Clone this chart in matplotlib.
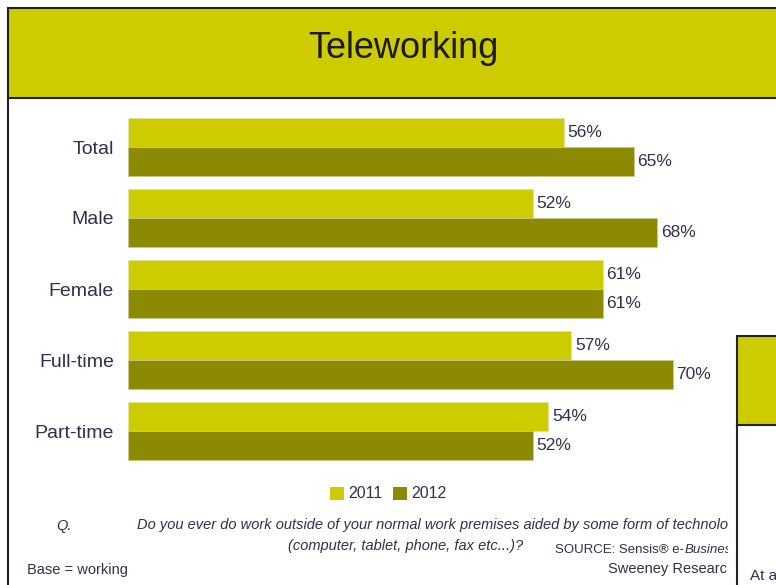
import matplotlib
matplotlib.use("Agg")
import matplotlib.pyplot as plt
from matplotlib.patches import Rectangle
from matplotlib.transforms import Bbox

plt.rcParams['font.family'] = ['Liberation Sans', 'DejaVu Sans']

categories = ["Total", "Male", "Female", "Full-time", "Part-time"]
values_2011 = [56, 52, 61, 57, 54]
values_2012 = [65, 68, 61, 70, 52]
series_names = ["2011", "2012"]
title = "Teleworking"

C2011 = "#CCCC00"
C2012 = "#8C8A00"
TXT = "#30304A"

W, H = 776, 585
fig = plt.figure(figsize=(W / 100, H / 100), dpi=100)

# background / decoration axes in pixel coordinates
bg = fig.add_axes([0, 0, 1, 1])
bg.set_xlim(0, W)
bg.set_ylim(H, 0)
bg.axis("off")

bg.add_patch(Rectangle((8, 8), W + 10, 90, facecolor=C2011, edgecolor="#222222", lw=1.5))
bg.plot([8, 8], [98, H + 5], color="#222222", lw=1.5)
bg.text(403, 49, title, ha="center", va="center", fontsize=26, color="#1a1a1a")

# second (cut off) box on the right
bg.add_patch(Rectangle((737, 336), 60, 89, facecolor=C2011, edgecolor="#222222", lw=1.5))
bg.plot([737, 737], [425, H + 5], color="#222222", lw=1.5)
bg.text(750, 576, "At a", ha="left", va="center", fontsize=11, color=TXT)

# bar axes
px0, px1 = 128, 728
ytop, ybot = 110, 470
ax = fig.add_axes([px0 / W, 1 - ybot / H, (px1 - px0) / W, (ybot - ytop) / H])
ax.set_facecolor("none")
scale = 7.78  # px per percent
ax.set_xlim(0, (px1 - px0) / scale)
yc0, step = 147, 71
ax.set_ylim((ybot - yc0) / step, (ytop - yc0) / step)

bh = 0.415
pos = list(range(len(categories)))
ax.barh([p - bh / 2 for p in pos], values_2011, height=bh, color=C2011, edgecolor="#E2E2A0", lw=0.6)
ax.barh([p + bh / 2 for p in pos], values_2012, height=bh, color=C2012, edgecolor="#C8C890", lw=0.6)

for p, v in zip(pos, values_2011):
    ax.text(v + 0.5, p - bh / 2, f"{v}%", ha="left", va="center", fontsize=12.5, color=TXT)
for p, v in zip(pos, values_2012):
    ax.text(v + 0.5, p + bh / 2, f"{v}%", ha="left", va="center", fontsize=12.5, color=TXT)

ax.set_yticks(pos)
ax.set_yticklabels(categories, fontsize=14, color=TXT)
ax.tick_params(axis="y", length=0, pad=10)
ax.set_xticks([])
for s in ax.spines.values():
    s.set_visible(False)

# legend
bg.add_patch(Rectangle((330, 487), 14, 13, facecolor=C2011, edgecolor="none"))
bg.text(348, 494, series_names[0], ha="left", va="center", fontsize=11.5, color=TXT)
bg.add_patch(Rectangle((393, 487), 14, 13, facecolor=C2012, edgecolor="none"))
bg.text(411, 494, series_names[1], ha="left", va="center", fontsize=11.5, color=TXT)

# footer texts (clipped at right like the original)
def clipped(t):
    t.set_clip_on(True)
    t.set_clip_box(Bbox.from_extents(0, 0, 728, H))
    return t

bg.text(64, 526, "Q.", ha="center", va="center", fontsize=10.5, style="italic", color=TXT)
clipped(bg.text(137, 525, "Do you ever do work outside of your normal work premises aided by some form of technology",
                ha="left", va="center", fontsize=10.5, style="italic", color=TXT))
bg.text(288, 546, "(computer, tablet, phone, fax etc...)?", ha="left", va="center", fontsize=10.5,
        style="italic", color=TXT)
src = clipped(bg.text(555, 550, "SOURCE: Sensis\u00ae e-", ha="left", va="center", fontsize=9.5, color=TXT))
clipped(bg.annotate("Business", xy=(1, 0.5), xycoords=src, ha="left", va="center", fontsize=9.5,
                    style="italic", color=TXT))
bg.text(27, 570, "Base = working", ha="left", va="center", fontsize=10.5, color=TXT)
clipped(bg.text(608, 569, "Sweeney Research", ha="left", va="center", fontsize=10.5, color=TXT))

fig.savefig("out.png", dpi=100)
